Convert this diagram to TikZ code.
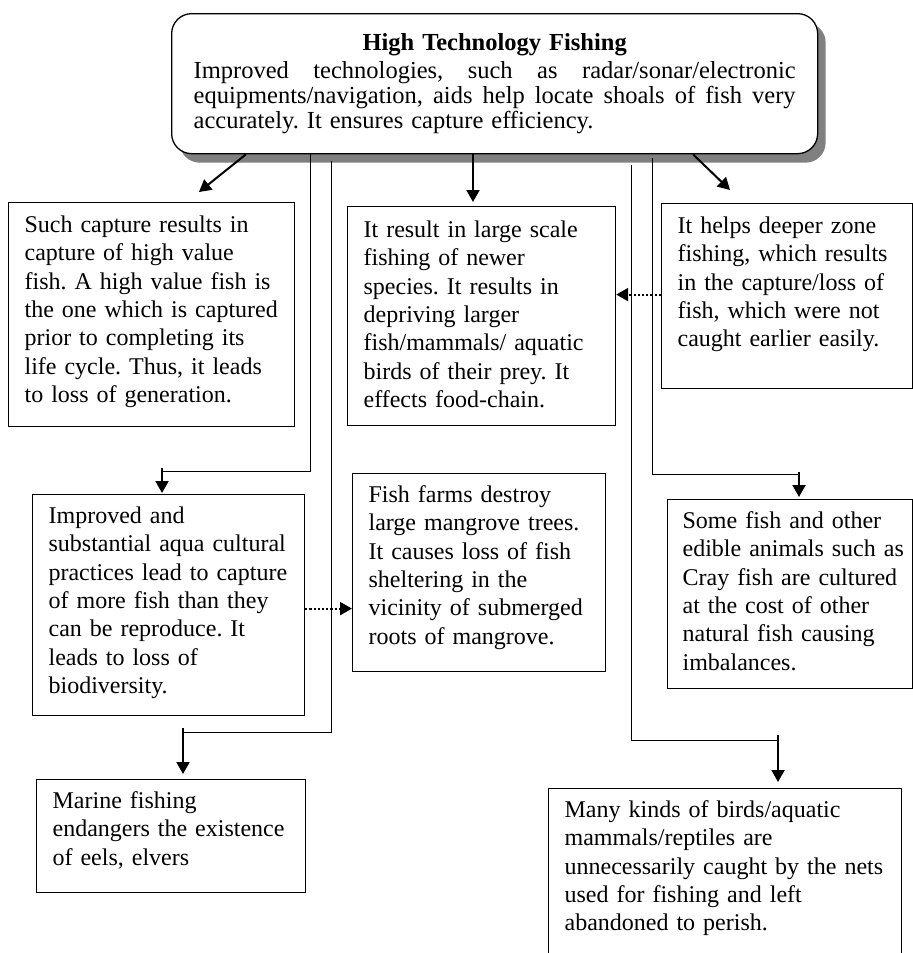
\documentclass[tikz,border=0pt]{standalone}
\usepackage{fontspec}
\setmainfont{Liberation Serif}
\usetikzlibrary{positioning, shadows, arrows.meta}
\frenchspacing

\begin{document}
\begin{tikzpicture}[x=0.5pt, y=-0.5pt]
	\tikzstyle{every node}+=[inner ysep=0pt, font=\fontsize{12pt}{14.15pt}\selectfont]
	\tikzstyle{infobox}=[draw, line width=0.6pt, anchor=north west, inner xsep=8pt, align=left, execute at begin node={\rightskip=-8pt plus 1fil\relax}]
	\tikzstyle{branch}=[line width=0.5pt]
	\tikzstyle{pointer}=[line width=1pt, -{Triangle[length=6pt, width=6.5pt]}]
	\tikzstyle{hint}=[line width=1.1pt, densely dotted, -{Triangle[length=6pt, width=6.5pt]}]
	\path[fill=white, use as bounding box] (0,0) rectangle (913,953);
	% main box
	\node[infobox, rounded corners=10pt, fill=white, line width=0.65pt, inner xsep=11pt, text width=301pt, text height=18.5pt, text depth=51.5pt,
		drop shadow={shadow xshift=4pt, shadow yshift=-4.5pt, fill=black!50, opacity=1}] (tech) at (171,13)
		{{\centering\fontsize{12.25pt}{14pt}\selectfont\bfseries High Technology Fishing\par}\vspace{1.5pt}%
		{\fontsize{12.25pt}{12.5pt}\selectfont
		\hbox to 301pt{Improved\hfill technologies,\hfill such\hfill as\hfill radar/sonar/electronic}
		\hbox to 301pt{equipments/navigation,\hfill aids\hfill help\hfill locate\hfill shoals\hfill of\hfill fish\hfill very}
		accurately. It ensures capture efficiency.\par}};
	% effects
	\node[infobox, text width=127pt, text height=15pt, text depth=97pt] (value) at (8,202)
		{Such capture results in\\ capture of high value\\ fish. A high value fish is\\ the one which is captured\\ prior to completing its\\ life cycle. Thus, it leads\\ to loss of generation.};
	\node[infobox, text width=118pt, text height=15.5pt, text depth=94pt] (scale) at (347,206)
		{It result in large scale\\ fishing of newer\\ species. It results in\\ depriving larger\\ fish/mammals/ aquatic\\ birds of their prey. It\\ effects food-chain.};
	\node[infobox, text width=109.5pt, text height=15pt, text depth=77.5pt] (deep) at (661,203)
		{It helps deeper zone\\ fishing, which results\\ in the capture/loss of\\ fish, which were not\\ caught earlier easily.};
	\node[infobox, text width=120pt, text height=14.5pt, text depth=96pt] (aqua) at (32,494)
		{Improved and\\ substantial aqua cultural\\ practices lead to capture\\ of more fish than they\\ can be reproduce. It\\ leads to loss of\\ biodiversity.};
	\node[infobox, text width=110.5pt, text height=14.5pt, text depth=84.5pt] (farm) at (352,473)
		{Fish farms destroy\\ large mangrove trees.\\ It causes loss of fish\\ sheltering in the\\ vicinity of submerged\\ roots of mangrove.};
	\node[infobox, inner xsep=7.5pt, text width=107.5pt, text height=14.5pt, text depth=80pt] (cray) at (667,499)
		{Some fish and other\\ edible animals such as\\ Cray fish are cultured\\ at the cost of other\\ natural fish causing\\ imbalances.};
	\node[infobox, text width=118.5pt, text height=14.5pt, text depth=42pt] (eels) at (36,779)
		{Marine fishing\\ endangers the existence\\ of eels, elvers};
	\node[infobox, text width=160.5pt, text height=14.5pt, text depth=74pt] (nets) at (548,788)
		{Many kinds of birds/aquatic\\ mammals/reptiles are\\ unnecessarily caught by the nets\\ used for fishing and left\\ abandoned to perish.};
	% arrow ends
	\coordinate (value-in) at (199,192);
	\coordinate (scale-in) at (473,202);
	\coordinate (deep-in) at (730,190);
	\coordinate (aqua-hook) at (162,471);
	\coordinate (aqua-in) at (162,493);
	\coordinate (eels-hook) at (183,732);
	\coordinate (eels-in) at (183,774);
	\coordinate (cray-hook) at (799,474);
	\coordinate (cray-in) at (799,497);
	\coordinate (nets-hook) at (778,740);
	\coordinate (nets-in) at (778,782);
	% connectors
	\draw[pointer] ([xshift=37.5pt]tech.south west) -- (value-in);
	\draw[pointer] ([xshift=151pt]tech.south west) -- (scale-in);
	\draw[pointer] ([xshift=261pt]tech.south west) -- (deep-in);
	\draw[branch] ([xshift=69.5pt]tech.south west) |- (aqua-hook);
	\draw[pointer] ([yshift=1.5pt]aqua-hook) -- (aqua-in);
	\draw[branch] ([xshift=80pt, yshift=-3.5pt]tech.south west) |- (eels-hook);
	\draw[pointer] ([yshift=2pt]eels-hook) -- (eels-in);
	\draw[branch] ([xshift=240.5pt, yshift=-2pt]tech.south west) |- (cray-hook);
	\draw[pointer] ([yshift=1pt]cray-hook) -- (cray-in);
	\draw[branch] ([xshift=230pt, yshift=-5.5pt]tech.south west) |- (nets-hook);
	\draw[pointer] ([yshift=2.5pt]nets-hook) -- (nets-in);
	\draw[hint] ([yshift=0.75pt]deep.west) -- ([yshift=10.75pt]scale.east);
	\draw[hint] ([yshift=-1.75pt]aqua.east) -- ([yshift=-18pt]farm.west);
\end{tikzpicture}
\end{document}
